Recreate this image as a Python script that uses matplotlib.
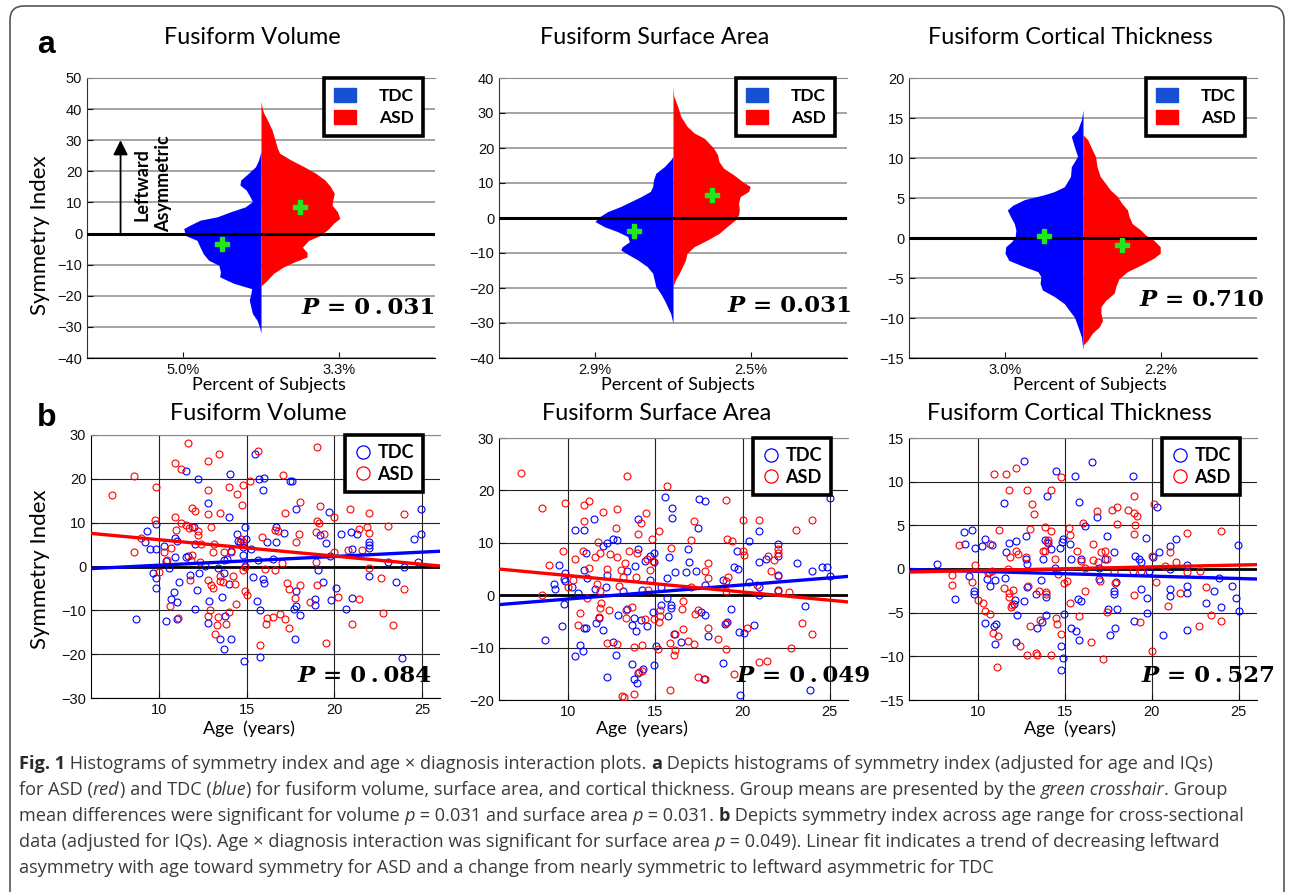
import numpy as np
import matplotlib
matplotlib.use("Agg")
import matplotlib.pyplot as plt
from matplotlib.lines import Line2D
from matplotlib.patches import Patch, FancyBboxPatch
from matplotlib.font_manager import FontProperties
from matplotlib.transforms import IdentityTransform

W, H = 1292, 892

# ---------------- data: panel a, histogram profiles (y, relative width) ----------------
vol_tdc_hist = [(26.4, 0.0), (25.5, 0.01), (23.7, 0.03), (21.5, 0.07), (19.4, 0.16), (17.2, 0.26), (15.6, 0.27),
                (14.0, 0.19), (11.8, 0.14), (10.3, 0.11), (8.6, 0.20), (7.0, 0.39), (5.4, 0.56), (4.3, 0.78),
                (2.7, 0.91), (1.6, 0.99), (-0.6, 0.97), (-2.2, 0.82), (-4.4, 0.78), (-6.5, 0.74), (-8.6, 0.67),
                (-10.2, 0.54), (-12.3, 0.52), (-13.9, 0.53), (-16.0, 0.35), (-17.7, 0.12), (-19.3, 0.13),
                (-21.4, 0.15), (-23.6, 0.13), (-25.7, 0.11), (-27.9, 0.05), (-30.0, 0.02), (-32.0, 0.0)]
vol_asd_hist = [(42.5, 0.0), (41.0, 0.01), (39.0, 0.03), (36.6, 0.08), (33.4, 0.14), (30.1, 0.18), (27.4, 0.21),
                (25.8, 0.24), (23.7, 0.38), (21.5, 0.55), (19.4, 0.70), (17.2, 0.82), (15.1, 0.89), (12.9, 0.94),
                (10.8, 0.92), (9.2, 0.91), (7.0, 0.98), (4.9, 1.01), (3.3, 0.93), (1.6, 0.87), (-0.6, 0.76),
                (-2.2, 0.61), (-4.4, 0.53), (-6.0, 0.59), (-7.5, 0.59), (-9.2, 0.42), (-10.7, 0.29),
                (-12.8, 0.16), (-15.0, 0.08), (-16.6, 0.01), (-17.0, 0.0)]
area_tdc_hist = [(17.6, 0.0), (16.6, 0.03), (14.7, 0.11), (12.8, 0.22), (10.9, 0.25), (9.0, 0.26), (7.6, 0.29),
                 (6.1, 0.41), (4.7, 0.54), (3.3, 0.67), (1.8, 0.84), (0.4, 0.94), (-1.0, 1.0), (-2.5, 0.88),
                 (-3.9, 0.71), (-5.3, 0.58), (-6.8, 0.56), (-8.2, 0.65), (-9.1, 0.67), (-10.1, 0.60),
                 (-12.0, 0.45), (-13.9, 0.33), (-15.8, 0.26), (-17.7, 0.24), (-19.6, 0.22), (-21.5, 0.16),
                 (-23.5, 0.11), (-25.4, 0.07), (-27.3, 0.03), (-29.2, 0.01), (-30.1, 0.0)]
area_asd_hist = [(37.6, 0.0), (34.8, 0.01), (31.9, 0.06), (29.0, 0.10), (26.2, 0.18), (24.3, 0.27), (22.8, 0.40),
                 (21.4, 0.46), (20.0, 0.52), (18.1, 0.57), (16.1, 0.59), (14.2, 0.65), (12.3, 0.78), (10.4, 0.89),
                 (9.0, 0.99), (7.6, 0.97), (6.1, 0.86), (4.2, 0.84), (2.4, 0.85), (0.9, 0.84), (-0.5, 0.80),
                 (-2.5, 0.69), (-4.4, 0.59), (-6.3, 0.44), (-8.2, 0.27), (-10.1, 0.18), (-12.0, 0.16),
                 (-13.9, 0.12), (-15.8, 0.08), (-17.7, 0.03), (-19.6, 0.0)]
thick_tdc_hist = [(16.0, 0.0), (14.8, 0.02), (13.5, 0.07), (12.7, 0.15), (11.4, 0.11), (10.2, 0.07), (8.9, 0.15),
                  (7.7, 0.16), (6.4, 0.24), (5.8, 0.37), (5.4, 0.50), (4.8, 0.75), (4.1, 0.90), (3.5, 0.97),
                  (2.7, 0.93), (1.8, 0.88), (1.0, 0.86), (0.1, 0.87), (-0.5, 0.92), (-1.1, 0.99), (-1.9, 1.0),
                  (-2.8, 0.95), (-3.6, 0.75), (-4.2, 0.58), (-4.8, 0.54), (-5.7, 0.55), (-6.5, 0.52),
                  (-7.3, 0.37), (-8.2, 0.24), (-9.0, 0.18), (-9.9, 0.11), (-10.7, 0.08), (-11.5, 0.05),
                  (-12.4, 0.02), (-13.2, 0.01), (-14.0, 0.0)]
thick_asd_hist = [(12.9, 0.0), (12.3, 0.06), (11.0, 0.12), (10.2, 0.16), (8.9, 0.18), (7.7, 0.22), (6.8, 0.29),
                  (6.0, 0.35), (5.2, 0.44), (4.3, 0.50), (3.5, 0.57), (2.7, 0.59), (1.8, 0.63), (1.0, 0.74),
                  (0.4, 0.80), (-0.3, 0.91), (-1.1, 0.99), (-1.9, 0.99), (-2.5, 0.91), (-3.4, 0.74), (-4.2, 0.57),
                  (-5.1, 0.46), (-6.1, 0.42), (-6.9, 0.40), (-7.8, 0.29), (-8.6, 0.23), (-9.4, 0.23),
                  (-10.3, 0.25), (-11.1, 0.21), (-11.9, 0.12), (-12.8, 0.06), (-13.4, 0.0)]

# group means (symmetry index) TDC, ASD
vol_means = [-3.2, 8.4]
area_means = [-3.6, 6.7]
thick_means = [0.2, -0.9]

hist_ticklabels = [["5.0%", "3.3%"], ["2.9%", "2.5%"], ["3.0%", "2.2%"]]
hist_pvals = ["0\u2009.\u2009031", "0.031", "0.710"]

# ---------------- data: panel b, (age, symmetry index) ----------------
vol_tdc = np.array([
    (11.53, 21.9), (12.23, 20.0), (14.03, 21.0), (15.5, 25.6), (15.72, 19.9), (12.8, 14.6), (14.0, 11.3),
    (9.83, 9.6), (9.3, 8.0), (9.2, 5.5), (9.5, 4.0), (9.83, 4.0), (10.28, 4.6), (10.93, 6.5), (11.02, 5.9),
    (12.05, 5.1), (11.98, 9.0), (10.93, 2.1), (11.53, 2.1), (11.67, 2.4), (10.42, 1.3), (10.57, -0.3),
    (9.68, -1.4), (9.8, -2.7), (9.83, -5.0), (11.14, -3.6), (10.83, -5.8), (10.7, -7.5), (11.02, -8.0),
    (11.78, -2.0), (12.27, -1.5), (12.63, 0.2), (12.14, -5.3), (12.88, -7.8), (13.6, -7.0), (13.35, -0.4),
    (13.73, -1.4), (13.97, -3.9), (13.77, -11.2), (12.77, -13.0), (12.03, -9.7), (10.42, -12.5),
    (11.02, -11.9), (8.69, -11.9), (13.48, -16.5), (14.09, -16.6), (13.71, -18.8), (14.84, -21.6),
    (15.76, -20.7), (14.43, 7.5), (14.6, 5.5), (14.5, 5.8), (14.9, 9.0), (14.96, 6.2), (14.79, 2.7),
    (15.27, 4.0), (15.38, -2.4), (15.66, 1.5), (15.74, -9.9), (15.59, -7.8), (14.12, 3.6), (14.77, 4.4),
    (13.86, 1.7), (14.92, 0.2), (13.7, 1.5),
    (16.0, 20.3), (15.95, 17.5), (17.48, 19.6), (17.57, 19.4), (17.84, 13.1), (19.68, 12.5), (20.36, 7.4),
    (20.97, 7.8), (21.3, 7.4), (21.99, 5.5), (21.99, 4.9), (21.99, 4.3), (24.56, 6.3), (24.96, 13.1),
    (24.96, 7.4), (24.77, 1.1), (16.68, 9.0), (16.68, 5.7), (17.15, 7.7), (19.17, 7.2), (19.5, 5.3),
    (16.17, 5.5), (16.5, 1.8), (19.75, 2.5), (21.0, 4.0), (23.08, 1.1), (23.98, -0.2), (21.99, -2.2),
    (23.54, -3.6), (19.07, -0.8), (15.95, -2.8), (16.0, -3.8), (19.34, -3.6), (17.84, -5.5), (20.09, -5.0),
    (18.9, -7.4), (18.9, -8.7), (19.8, -7.7), (17.7, -9.7), (17.84, -8.9), (18.06, -11.0), (20.64, -9.6),
    (21.0, -7.1), (17.78, -16.6), (23.88, -20.9)])
vol_asd = np.array([
    (11.63, 28.1), (10.93, 23.7), (11.23, 22.3), (12.8, 24.1), (13.41, 25.6), (8.56, 20.7), (7.33, 16.3),
    (9.85, 18.1), (12.77, 17.5), (14.0, 18.1), (14.43, 16.5), (14.77, 18.5), (15.19, 19.4), (14.76, 14.0),
    (12.8, 12.0), (13.5, 12.2), (11.86, 13.3), (12.05, 12.7), (10.89, 11.2), (9.75, 10.6), (11.23, 9.9),
    (12.99, 9.1), (11.53, 9.4), (11.72, 8.7), (11.89, 9.0), (10.95, 8.4), (12.23, 8.0), (12.2, 7.2),
    (9.0, 6.6), (8.56, 3.3), (10.3, 3.4), (10.44, 1.5), (10.7, 4.3), (11.89, 2.7), (11.82, 1.4), (12.33, 1.1),
    (12.42, 5.2), (13.14, 5.2), (13.08, 3.4), (13.69, 3.4), (14.12, 3.2), (14.66, 6.2), (14.8, 5.7),
    (15.85, 6.8), (10.0, -1.3), (11.78, -3.1), (12.8, -3.1), (12.95, -4.2), (13.1, -4.9), (13.48, -2.1),
    (13.5, -3.2), (13.65, -3.6), (14.2, -2.1), (14.36, -4.1), (14.8, -0.9), (14.9, -0.1), (14.9, -5.5),
    (15.04, -6.4), (14.38, -8.6), (13.97, -10.3), (12.92, -9.9), (10.62, -9.0), (11.1, -11.7), (12.8, -11.4),
    (13.39, -11.5), (13.31, -13.4), (13.8, -13.2), (13.2, -15.3), (15.76, -17.8),
    (15.65, 26.3), (19.03, 27.2), (17.06, 20.9), (18.03, 14.8), (17.2, 12.3), (19.17, 13.9), (20.9, 13.1),
    (22.0, 12.2), (23.98, 12.0), (20.0, 11.2), (16.6, 8.4), (16.8, 8.2), (18.01, 7.4), (17.8, 5.6),
    (19.03, 10.3), (19.14, 9.9), (18.98, 7.9), (19.4, 7.4), (21.4, 8.6), (21.84, 9.1), (22.0, 7.6),
    (23.05, 9.3), (20.0, 3.2), (20.78, 3.7), (21.6, 3.7), (18.94, 1.1), (16.99, 0.8), (16.06, -0.6),
    (16.6, -0.8), (21.99, -0.3), (22.66, -2.7), (23.98, -5.2), (17.29, -3.8), (17.44, -5.1), (18.03, -4.3),
    (19.03, -4.3), (17.75, -7.2), (18.6, -8.0), (20.2, -7.0), (21.4, -7.4), (16.17, -11.8), (16.5, -11.6),
    (16.9, -10.9), (17.2, -11.9), (16.1, -13.1), (17.44, -14.1), (21.0, -13.1), (22.76, -10.6),
    (23.37, -13.4), (19.5, -17.4)])

area_tdc = np.array([
    (11.49, 14.5), (10.4, 12.5), (10.9, 12.5), (14.0, 14.5), (12.01, 9.4), (12.2, 9.9), (12.59, 10.8),
    (12.8, 10.5), (14.0, 8.8), (9.48, 5.7), (9.79, 4.3), (9.75, 3.1), (9.81, 2.7), (9.2, 2.2), (9.23, 1.1),
    (10.21, 1.5), (10.56, 0.4), (11.0, 8.0), (10.9, 4.8), (11.09, 3.2), (12.24, 3.9), (12.16, 1.5),
    (11.53, 1.1), (13.39, 4.6), (13.85, 5.5), (14.41, 6.6), (14.66, 7.5), (14.92, 8.0), (14.89, 6.4),
    (14.71, 2.9), (14.21, 1.0), (13.12, 0.8), (9.75, -1.7), (9.65, -5.9), (8.66, -8.5), (11.61, -5.3),
    (11.74, -4.3), (12.01, -6.6), (12.87, -3.7), (13.39, -2.7), (13.77, -4.3), (13.64, -5.6), (13.91, -6.9),
    (14.16, -4.8), (14.5, -5.9), (14.85, -3.2), (10.67, -9.5), (10.82, -10.6), (10.4, -11.6), (11.0, -6.2),
    (10.9, -6.3), (12.76, -11.5), (12.59, -9.0), (14.92, -13.4), (13.66, -13.2), (13.75, -15.9),
    (13.93, -16.7), (13.98, -14.9), (14.29, -14.1), (12.24, -15.6),
    (15.53, 18.8), (17.5, 18.4), (17.84, 17.9), (15.95, 16.7), (15.95, 14.7), (17.42, 12.8), (20.97, 12.2),
    (20.34, 10.4), (16.87, 8.8), (15.76, 7.3), (19.68, 8.5), (22.02, 9.8), (22.02, 7.5), (21.34, 7.0),
    (20.97, 6.4), (23.13, 6.2), (16.93, 6.4), (16.78, 4.5), (16.14, 4.4), (17.33, 4.6), (19.5, 5.3),
    (19.71, 5.0), (24.0, 4.7), (24.58, 5.3), (24.85, 5.3), (25.0, 3.7), (25.0, 18.6), (15.69, 3.2),
    (15.34, 1.6), (17.86, 2.0), (18.85, 2.9), (20.36, 2.5), (20.97, 1.6), (22.02, 3.8), (22.02, 1.0),
    (20.97, 0.0), (15.65, -0.6), (15.31, -1.8), (15.9, -1.9), (15.9, -2.5), (15.73, -4.0), (17.6, -3.3),
    (17.82, -3.8), (19.35, -2.7), (23.59, -2.0), (19.0, -5.5), (19.12, -5.1), (18.02, -7.7), (20.67, -5.7),
    (19.81, -7.0), (20.1, -7.3), (16.05, -7.4), (16.49, -9.0), (18.89, -12.9), (17.78, -16.0),
    (19.85, -19.1), (23.89, -18.0), (15.05, -9.7)])
area_asd = np.array([
    (7.26, 23.4), (8.51, 16.7), (9.79, 17.6), (10.9, 17.2), (11.19, 17.9), (10.9, 14.2), (12.01, 15.9),
    (12.8, 16.5), (13.39, 22.8), (12.74, 12.8), (14.43, 15.6), (14.18, 13.8), (14.0, 11.6), (14.79, 10.8),
    (11.69, 10.1), (10.84, 8.4), (9.71, 8.4), (10.4, 6.9), (11.19, 5.2), (8.9, 5.7), (11.51, 7.2),
    (11.84, 8.0), (12.41, 7.9), (12.8, 7.2), (13.5, 8.5), (13.26, 6.2), (13.0, 4.9), (12.21, 5.0),
    (13.93, 8.0), (14.52, 7.0), (14.71, 4.9), (14.85, 6.6), (14.6, 1.0), (13.87, 3.5), (13.12, 3.5),
    (12.93, 1.7), (11.65, 2.2), (11.84, 0.8), (10.25, 2.9), (9.98, 1.6), (8.51, 0.0), (11.07, -0.6),
    (11.88, -1.5), (11.8, -2.4), (11.76, -4.1), (12.34, -2.9), (13.33, -2.9), (13.66, -2.2), (13.3, -4.3),
    (10.67, -3.4), (10.57, -5.6), (14.41, -4.5), (14.92, -4.6), (12.22, -9.2), (12.8, -9.4), (13.79, -9.9),
    (14.2, -9.5), (14.06, -14.6), (14.21, -14.4), (13.77, -18.8), (13.1, -19.2), (13.22, -19.4),
    (15.69, 20.8), (15.21, 12.2), (19.05, 18.1), (17.19, 14.1), (20.0, 14.3), (20.94, 14.3), (24.0, 14.3),
    (23.09, 12.5), (17.06, 10.5), (15.88, 9.0), (19.1, 10.7), (19.41, 10.4), (20.0, 8.5), (20.1, 7.6),
    (18.02, 6.2), (21.43, 7.5), (21.81, 6.8), (22.04, 8.9), (22.02, 8.0), (21.62, 4.7), (17.84, 4.7),
    (17.99, 3.2), (19.05, 2.7), (19.16, 3.5), (22.06, 3.7), (20.8, 1.9), (17.02, 1.5), (19.05, 0.8),
    (22.06, 0.8), (22.67, 0.6), (16.6, -1.1), (16.5, -2.7), (15.27, -2.9), (15.27, -4.0), (15.23, -5.1),
    (17.29, -3.5), (17.44, -2.9), (18.02, -6.2), (16.6, -6.5), (16.14, -7.4), (19.06, -5.4), (20.23, -6.2),
    (23.4, -5.4), (24.0, -7.4), (16.87, -8.8), (17.21, -9.4), (18.59, -8.3), (15.82, -9.2), (16.14, -10.4),
    (16.05, -11.5), (19.05, -10.2), (15.15, -10.2), (22.79, -10.0), (20.97, -12.8), (21.4, -12.5),
    (19.5, -15.1), (17.42, -15.7), (15.82, -18.1), (17.82, -15.9)])

thick_tdc = np.array([
    (12.62, 12.4), (14.5, 11.2), (11.49, 7.6), (13.98, 8.4), (9.2, 4.2), (9.66, 4.5), (10.38, 3.4),
    (10.21, 2.6), (10.8, 2.7), (9.23, 2.9), (9.81, 2.4), (11.78, 3.0), (12.2, 3.2), (11.63, 2.0),
    (12.74, 3.8), (13.85, 3.3), (14.0, 3.0), (14.18, 2.3), (13.75, 1.1), (14.69, 2.4), (14.81, 3.1),
    (14.9, 3.4), (12.78, 1.2), (12.8, 0.6), (7.66, 0.6), (9.48, -0.8), (10.52, -1.1), (10.98, -1.3),
    (10.69, -2.0), (11.55, -1.0), (9.75, -2.5), (9.79, -2.9), (8.66, -3.4), (12.11, -3.6), (12.05, -4.0),
    (12.66, -3.7), (12.84, -2.1), (13.33, -2.9), (13.64, -1.3), (13.93, -3.2), (12.26, -5.3), (13.89, -5.3),
    (13.68, -6.1), (13.39, -6.7), (10.4, -6.2), (11.02, -6.3), (10.92, -6.5), (10.98, -8.6), (12.15, -8.4),
    (14.92, -5.2), (14.77, -8.8), (14.88, -10.2), (14.77, -11.6), (14.4, 0.1),
    (16.53, 12.2), (15.55, 10.6), (18.89, 10.7), (15.78, 7.7), (20.32, 7.1), (16.83, 5.9), (16.16, 4.9),
    (17.42, 3.8), (19.68, 3.6), (21.36, 3.4), (21.03, 2.6), (24.98, 2.8), (15.27, 2.9), (17.84, 2.0),
    (19.05, 1.5), (19.27, 1.1), (20.4, 2.0), (20.08, 1.4), (19.39, 0.8), (15.34, 1.2), (15.9, 1.1),
    (17.29, 1.1), (16.98, 0.1), (19.85, -0.2), (21.03, 0.0), (22.04, 0.5), (23.89, -1.0), (24.6, -1.9),
    (16.95, -1.1), (17.92, -1.5), (17.81, -2.5), (17.81, -2.9), (19.37, -2.3), (19.69, -3.3), (21.03, -2.3),
    (21.03, -3.1), (22.04, -2.0), (22.04, -2.7), (23.6, -2.5), (24.87, -3.3), (23.13, -3.9), (24.0, -4.4),
    (25.02, -4.8), (15.73, -3.4), (15.94, -3.7), (17.5, -4.6), (18.02, -4.6), (19.73, -5.0), (18.96, -6.0),
    (15.36, -6.7), (15.65, -7.1), (15.78, -8.1), (17.6, -7.6), (17.87, -6.8), (20.63, -7.6), (22.04, -7.0)])
thick_asd = np.array([
    (11.8, 9.1), (12.82, 9.0), (12.2, 11.6), (11.61, 10.9), (10.92, 10.9), (14.79, 10.5), (14.2, 9.1),
    (13.12, 7.5), (13.22, 6.3), (11.19, 4.5), (12.99, 4.6), (13.83, 4.8), (14.18, 4.4), (14.02, 3.3),
    (13.98, 3.1), (13.75, 2.1), (13.85, 2.1), (14.43, 1.1), (8.91, 2.7), (10.71, 2.9), (12.2, 2.1),
    (12.32, 1.7), (11.82, 1.4), (12.76, 1.4), (9.81, 0.5), (8.49, -0.7), (8.51, -1.8), (9.67, -1.5),
    (10.59, -0.5), (10.8, -0.2), (11.69, 0.0), (11.49, -2.2), (11.8, -2.8), (12.01, -2.4), (11.8, -3.2),
    (11.88, -4.3), (11.97, -4.1), (10.0, -3.6), (10.29, -3.9), (10.4, -4.8), (10.67, -5.1), (12.87, -2.0),
    (13.49, -2.5), (13.91, -2.6), (13.91, -2.9), (13.58, -5.8), (14.5, -5.6), (14.56, -6.3), (14.75, -7.4),
    (14.6, -0.6), (14.94, -1.6), (12.99, -6.5), (10.88, -7.3), (11.17, -7.7), (12.41, -8.8), (12.82, -9.8),
    (13.31, -9.6), (13.39, -9.8), (14.2, -9.8), (11.09, -11.2), (10.63, -0.3),
    (18.95, 8.4), (20.1, 7.4), (17.73, 6.8), (18.02, 7.1), (18.63, 6.8), (18.97, 6.4), (19.16, 6.1),
    (16.83, 6.6), (16.05, 5.3), (18.02, 5.2), (19.01, 5.0), (18.99, 4.0), (15.23, 4.7), (15.29, 3.9),
    (22.04, 4.1), (24.0, 4.3), (16.6, 2.9), (17.06, 2.0), (17.31, 2.1), (16.89, 0.8), (16.6, 1.0),
    (17.39, 1.1), (15.67, 2.1), (15.92, 0.9), (16.13, 0.1), (17.81, -0.3), (18.93, -0.2), (19.37, -0.2),
    (20.02, 1.5), (21.03, 2.0), (21.41, 0.8), (20.76, 0.3), (22.04, -0.4), (22.79, -0.2), (20.23, -1.5),
    (17.0, -1.4), (15.11, -1.4), (16.17, -2.5), (17.86, -1.6), (18.97, -3.0), (21.6, -2.8), (23.11, -2.1),
    (15.27, -3.9), (20.93, -4.2), (15.8, -5.4), (17.39, -4.9), (23.4, -5.3), (24.0, -6.0), (19.29, -6.1),
    (22.69, -6.5), (16.51, -8.4), (20.02, -9.4), (17.19, -10.3)])

# linear fits at the ends of the age range: [TDC], [ASD]
fit_age = [6.0, 26.1]
vol_fit = [[-0.5, 3.5], [7.6, 0.1]]
area_fit = [[-1.8, 3.6], [5.0, -1.3]]
thick_fit = [[-0.05, -1.15], [-0.35, 0.5]]
scatter_pvals = ["0\u2009.\u2009084", "0\u2009.\u2009049", "0\u2009.\u2009527"]

titles = ["Fusiform Volume", "Fusiform Surface Area", "Fusiform Cortical Thickness"]

# ---------------- styling ----------------
BLUE, RED, GREEN = "#0000ff", "#ff0000", "#22e61e"
TITLE_FONT = "Lato"
TICK_FONT = "Liberation Sans"

fig = plt.figure(figsize=(W / 100, H / 100), dpi=100)
renderer = fig.canvas.get_renderer()


def px_axes(l, t, r, b):
    return fig.add_axes([l / W, 1 - b / H, (r - l) / W, (b - t) / H])


def ftext(x, y, s, **kw):
    return fig.text(x / W, 1 - y / H, s, **kw)


def text_w(s, fp):
    w, _, _ = renderer.get_text_width_height_descent(s, fp, ismath=False)
    return w


def style_ticks(ax):
    ax.tick_params(direction="in", length=4, labelsize=10.5, colors="#111111")
    for lab in ax.get_xticklabels() + ax.get_yticklabels():
        lab.set_fontfamily(TICK_FONT)


def p_text(right, yc, num, size):
    fp_p = FontProperties(family="DejaVu Serif", weight="bold", style="italic", size=size)
    fp_n = FontProperties(family="DejaVu Serif", weight="bold", size=size)
    s = " = " + num
    ftext(right, yc, s, fontproperties=fp_n, ha="right", va="center_baseline")
    ftext(right - text_w(s, fp_n), yc, "P", fontproperties=fp_p, ha="right", va="center_baseline")


PSIZE = 16.5

# ---------------- row a: histograms ----------------
hist_boxes = [(87, 78, 435, 358), (499, 78, 847, 358), (909, 78, 1257, 358)]
hist_sets = [(vol_tdc_hist, vol_asd_hist, vol_means, (-40, 50), np.arange(-40, 51, 10)),
             (area_tdc_hist, area_asd_hist, area_means, (-40, 40), np.arange(-40, 41, 10)),
             (thick_tdc_hist, thick_asd_hist, thick_means, (-15, 20), np.arange(-15, 21, 5))]
hist_title_x = [252, 655, 1070]
hist_xlabel_x = [269, 678, 1090]
hist_p_pos = [(435, 306), (852, 303), (1264, 297)]

for i, (box, (tdc, asd, means, ylim, yt)) in enumerate(zip(hist_boxes, hist_sets)):
    ax = px_axes(*box)
    ty, tw = np.array(tdc).T
    ay, aw = np.array(asd).T
    ax.fill_betweenx(ty, -tw, 0, color=BLUE, lw=0, zorder=2)
    ax.fill_betweenx(ay, 0, aw, color=RED, lw=0, zorder=2)
    ax.axhline(0, color="k", lw=2.2, zorder=3)
    ax.plot([-0.5], [means[0]], "P", color=GREEN, ms=10, mec=GREEN, zorder=4)
    ax.plot([0.5], [means[1]], "P", color=GREEN, ms=10, mec=GREEN, zorder=4)
    ax.set_xlim(-2.23, 2.23)
    ax.set_ylim(*ylim)
    ax.set_yticks(yt)
    ax.set_xticks([-1, 1])
    ax.set_xticklabels(hist_ticklabels[i])
    ax.yaxis.grid(True, color="#8a8a8a", lw=1.1)
    ax.set_axisbelow(True)
    ax.spines["right"].set_visible(False)
    ax.spines["top"].set_color("#8a8a8a")
    ax.spines["left"].set_color("#333333")
    style_ticks(ax)
    leg = ax.legend(handles=[Patch(color="#1550d5", label="TDC"), Patch(color=RED, label="ASD")],
                    loc="upper right", bbox_to_anchor=(0.966, 1.0), fancybox=False, edgecolor="k",
                    framealpha=1, borderpad=0.55, labelspacing=0.35, handlelength=1.3, handleheight=0.9,
                    handletextpad=1.3, borderaxespad=0,
                    prop=FontProperties(family=TITLE_FONT, weight="bold", size=12.5))
    leg.get_frame().set_linewidth(2.6)
    ftext(hist_title_x[i], 38, titles[i], ha="center", va="center", fontsize=16.8, family=TITLE_FONT)
    ftext(hist_xlabel_x[i], 385, "Percent of Subjects", ha="center", va="center", fontsize=13,
          family=TITLE_FONT)
    p_text(hist_p_pos[i][0], hist_p_pos[i][1], hist_pvals[i], PSIZE)
    if i == 0:
        ax.annotate("", xy=(-1.80, 30), xytext=(-1.80, 0),
                    arrowprops=dict(arrowstyle="-|>", color="k", lw=1.3, mutation_scale=22,
                                    shrinkA=0, shrinkB=0))
        ax.text(-1.53, 15.6, "Leftward", rotation=90, ha="center", va="center", fontsize=13,
                fontweight="bold", family=TITLE_FONT)
        ax.text(-1.25, 16.2, "Asymmetric", rotation=90, ha="center", va="center", fontsize=13,
                fontweight="bold", family=TITLE_FONT)

# ---------------- row b: scatter plots ----------------
sc_boxes = [(91, 435, 440, 698), (499, 438, 848, 700), (909, 438, 1257, 700)]
sc_sets = [(vol_tdc, vol_asd, vol_fit, (-30, 30), np.arange(-30, 31, 10), (6.12, 26.03)),
           (area_tdc, area_asd, area_fit, (-20, 30), np.arange(-20, 31, 10), (6.02, 26.05)),
           (thick_tdc, thick_asd, thick_fit, (-15, 15), np.arange(-15, 16, 5), (6.02, 26.05))]
sc_title_x = [258, 657, 1069]
sc_xlabel_x = [249, 642, 1070]
sc_p_pos = [(431, 673), (870, 673), (1275, 673)]

for i, (box, (tdc, asd, fit, ylim, yt, xlim)) in enumerate(zip(sc_boxes, sc_sets)):
    ax = px_axes(*box)
    ax.axhline(0, color="k", lw=2.0, zorder=2)
    ax.plot(tdc[:, 0], tdc[:, 1], "o", mfc="none", mec=BLUE, ms=5, mew=0.8, zorder=3)
    ax.plot(asd[:, 0], asd[:, 1], "o", mfc="none", mec=RED, ms=5, mew=0.8, zorder=3)
    ax.plot(fit_age, fit[0], color=BLUE, lw=2.4, zorder=4)
    ax.plot(fit_age, fit[1], color=RED, lw=2.4, zorder=5)
    ax.set_xlim(*xlim)
    ax.set_ylim(*ylim)
    ax.set_yticks(yt)
    ax.set_xticks([10, 15, 20, 25])
    ax.grid(True, color="#222222", lw=0.8)
    ax.set_axisbelow(True)
    ax.spines["right"].set_visible(False)
    ax.spines["top"].set_color("#8a8a8a")
    style_ticks(ax)
    handles = [Line2D([], [], ls="none", marker="o", mfc="none", mec=BLUE, ms=9.5, mew=0.9, label="TDC"),
               Line2D([], [], ls="none", marker="o", mfc="none", mec=RED, ms=9.5, mew=0.9, label="ASD")]
    leg = ax.legend(handles=handles, loc="upper right", bbox_to_anchor=(0.951, 1.0), fancybox=False,
                    edgecolor="k", framealpha=1, borderpad=0.5, labelspacing=0.25, handlelength=1.0,
                    handletextpad=0.3, borderaxespad=0,
                    prop=FontProperties(family=TITLE_FONT, weight="bold", size=13))
    leg.get_frame().set_linewidth(2.6)
    leg.set_zorder(10)
    ftext(sc_title_x[i], 413, titles[i], ha="center", va="center", fontsize=16.8, family=TITLE_FONT)
    ftext(sc_xlabel_x[i], 729, "Age  (years)", ha="center", va="center", fontsize=13, family=TITLE_FONT)
    p_text(sc_p_pos[i][0], sc_p_pos[i][1], scatter_pvals[i], PSIZE)

ftext(40, 235, "Symmetry Index", rotation=90, ha="center", va="center", fontsize=16, family=TITLE_FONT)
ftext(40, 569, "Symmetry Index", rotation=90, ha="center", va="center", fontsize=16, family=TITLE_FONT)
ftext(46, 45, "a", ha="center", va="center", fontsize=23, fontweight="bold", family=TICK_FONT)
ftext(47, 418, "b", ha="center", va="center", fontsize=23, fontweight="bold", family=TICK_FONT)

# ---------------- caption ----------------
N, B, I = "normal", "bold", "italic"
caption = [
    [("Fig. 1", B), (" Histograms of symmetry index and age \u00d7 diagnosis interaction plots. ", N), ("a", B),
     (" Depicts histograms of symmetry index (adjusted for age and IQs)", N)],
    [("for ASD (", N), ("red", I), (") and TDC (", N), ("blue", I),
     (") for fusiform volume, surface area, and cortical thickness. Group means are presented by the ", N),
     ("green crosshair", I), (". Group", N)],
    [("mean differences were significant for volume ", N), ("p", I), (" = 0.031 and surface area ", N),
     ("p", I), (" = 0.031. ", N), ("b", B), (" Depicts symmetry index across age range for cross-sectional", N)],
    [("data (adjusted for IQs). Age \u00d7 diagnosis interaction was significant for surface area ", N),
     ("p", I), (" = 0.049). Linear fit indicates a trend of decreasing leftward", N)],
    [("asymmetry with age toward symmetry for ASD and a change from nearly symmetric to leftward "
      "asymmetric for TDC", N)],
]
caption_right = [1256, 1244, 1274, 1219]
CAP_FONT = "Open Sans"
CAP_X = 19


def cap_fp(kind, size):
    if kind == B:
        return FontProperties(family=CAP_FONT, weight="bold", size=size)
    if kind == I:
        return FontProperties(family=CAP_FONT, style="italic", size=size)
    return FontProperties(family=CAP_FONT, size=size)


# one common size: the largest that keeps every line inside its reference width
cap_size = min(12 * (r - CAP_X) / sum(text_w(s, cap_fp(k, 12)) for s, k in line)
               for line, r in zip(caption, caption_right))
for j, line in enumerate(caption):
    x = CAP_X
    y = 769 + 26 * j
    for s, k in line:
        fp = cap_fp(k, cap_size)
        ftext(x, y, s, fontproperties=fp, ha="left", va="baseline",
              color="#2a2a2a" if k == B else "#3a3a3a")
        x += text_w(s, fp)

# rounded frame around the figure
fig.patches.append(FancyBboxPatch((10, -20), 1274, H - 6 + 20, boxstyle="round,pad=0,rounding_size=14",
                                  transform=IdentityTransform(), fill=False, ec="#555555", lw=1.2))

fig.savefig("out.png", dpi=100)
